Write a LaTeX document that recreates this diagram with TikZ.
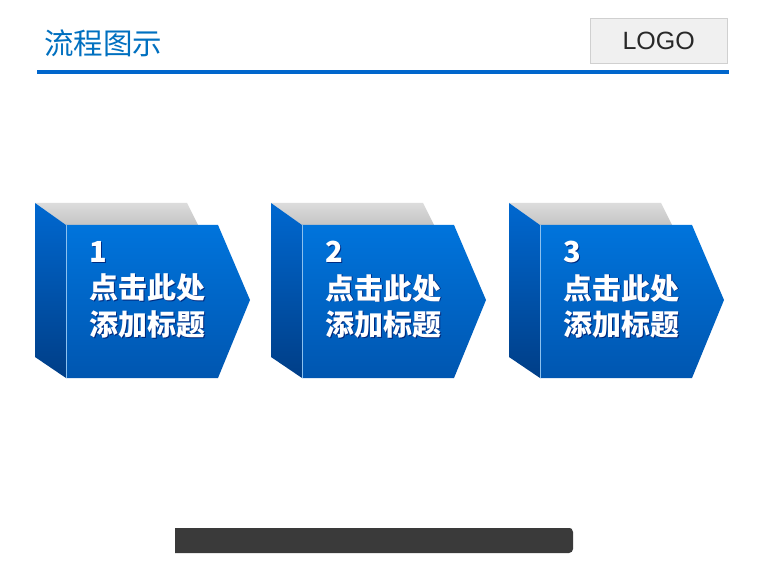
\documentclass[tikz,border=0pt]{standalone}
\usepackage{fontspec}
\setmainfont{Liberation Sans}
\newfontfamily\cjk{Noto Sans CJK SC}
\usetikzlibrary{shadings}
\definecolor{titleblue}{RGB}{0,112,192}
\definecolor{lineblue}{RGB}{0,102,204}
\definecolor{frontTop}{RGB}{0,116,220}
\definecolor{frontBot}{RGB}{0,86,176}
\definecolor{sideTop}{RGB}{0,104,208}
\definecolor{sideBot}{RGB}{0,62,135}
\definecolor{topA}{RGB}{220,220,220}
\definecolor{topB}{RGB}{196,196,196}
\definecolor{barcol}{RGB}{58,58,58}
\tikzset{
  boxtext/.style={text=white, align=left, anchor=north west, inner sep=0pt,
    font=\cjk\bfseries\fontsize{29}{36.5}\selectfont},
  shadowtext/.style={boxtext, text=black!70!blue, opacity=0.6},
}
\newcommand\flowbox[3]{%
  \begin{scope}[xshift=#1pt]
    \shade[top color=topA, bottom color=topB] (35,203) -- (187,203) -- (198,225) -- (66,225) -- cycle;
    \shade[shading angle=-15, top color=sideTop, bottom color=sideBot] (35,203) -- (66,225) -- (66,378) -- (35,357) -- cycle;
    \shade[top color=frontTop, bottom color=frontBot] (66,225) -- (218,225) -- (250,300) -- (218,378) -- (66,378) -- cycle;
    \draw[white!55!frontTop, line width=0.6pt] (66,225) -- (66,378);
    \node[shadowtext] at (89.8,241.8) {#3\\点击此处\\添加标题};
    \node[boxtext] (#2) at (89,241) {#3\\点击此处\\添加标题};
  \end{scope}}
\begin{document}
\begin{tikzpicture}[x=1pt,y=-1pt]
\useasboundingbox (0,0) rectangle (760,561);
\fill[white] (0,0) rectangle (760,561);
% header
\node[anchor=west, text=titleblue, font=\cjk\fontsize{29.5}{32}\selectfont, inner sep=0pt] (title) at (44,43) {流程图示};
\fill[lineblue] (37,70.5) rectangle (729,74);
\node[draw={rgb,255:red,208;green,208;blue,208}, fill={rgb,255:red,240;green,240;blue,240}, minimum width=137pt, minimum height=45pt, inner sep=0pt, text={rgb,255:red,40;green,40;blue,40}, font=\fontsize{25}{28}\selectfont, anchor=north west] (logo) at (590,18) {LOGO};
% boxes
\flowbox{0}{t1}{1}
\flowbox{236}{t2}{2}
\flowbox{474}{t3}{3}
% bottom bar
\fill[barcol, rounded corners=3pt] (175,528) -- (569,528) [rounded corners=4pt]-- (573,528) -- (573,553) [sharp corners]-- (175,553) -- cycle;
\end{tikzpicture}
\end{document}
